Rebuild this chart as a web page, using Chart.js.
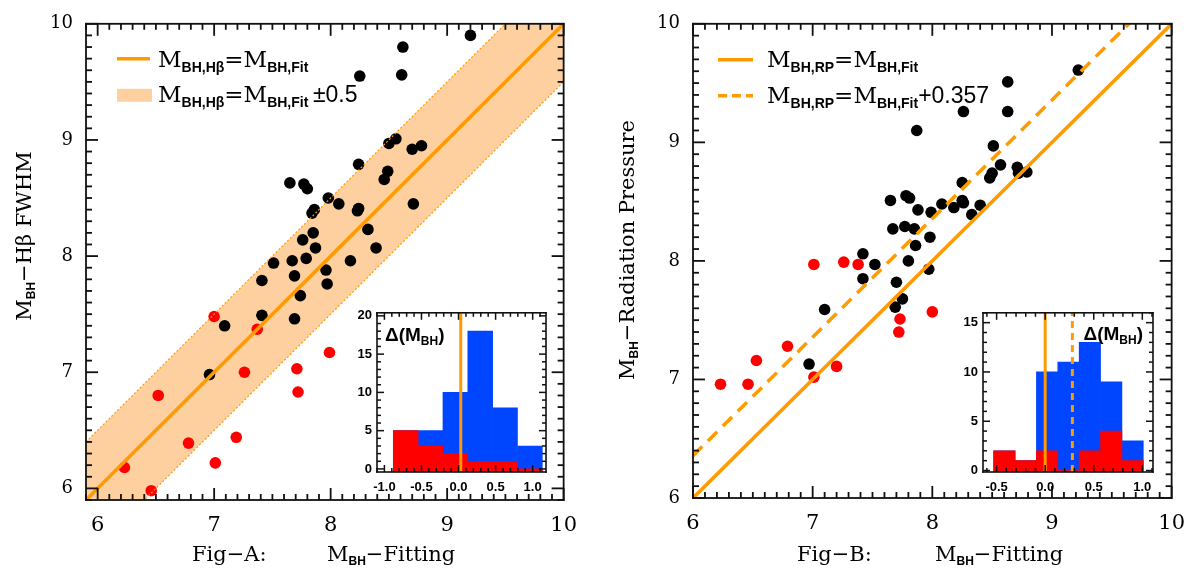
<!DOCTYPE html>
<html>
<head>
<meta charset="utf-8">
<title>M_BH comparison</title>
<script src="https://cdn.jsdelivr.net/npm/chart.js@4.4.1/dist/chart.umd.min.js"></script>
<style>
    body { margin: 0; background: #fff; }
    #wrap { position: relative; width: 1198px; height: 569px; overflow: hidden; }
    #wrap canvas { position: absolute; }
</style>
</head>
<body>
<div id="wrap">
    <canvas id="figA" width="590" height="569" style="left:0;top:0;width:590px;height:569px"></canvas>
    <canvas id="figB" width="608" height="569" style="left:590px;top:0;width:608px;height:569px"></canvas>
    <canvas id="histA" width="220" height="200" style="left:335px;top:300px;width:220px;height:200px"></canvas>
    <canvas id="histB" width="225" height="200" style="left:940px;top:300px;width:225px;height:200px"></canvas>
</div>
<script>
// ---- data ----
const axisTicks = [6, 7, 8, 9, 10];

// Fig-A : M_BH from H-beta FWHM against the fitted M_BH
const fitA_black = [9.20, 8.62, 8.25, 8.61, 8.56, 8.50, 8.70, 8.78, 8.24, 8.49, 8.46, 7.65, 7.77, 7.80, 7.98, 8.07, 8.24, 8.23, 8.71, 7.86,
                    7.84, 8.32, 7.85, 7.76, 7.87, 8.39, 7.51, 7.67, 7.79, 8.17, 7.41, 7.69, 7.96, 7.97, 7.74, 7.41, 7.69, 7.09, 6.96];
const hbA_black  = [9.90, 9.80, 9.55, 9.56, 9.01, 8.97, 8.92, 8.95, 8.79, 8.73, 8.66, 8.63, 8.62, 8.58, 8.50, 8.45, 8.41, 8.39, 8.45, 8.40,
                    8.37, 8.23, 8.20, 8.14, 8.07, 8.07, 7.94, 7.96, 7.98, 7.96, 7.79, 7.83, 7.88, 7.76, 7.66, 7.49, 7.46, 7.40, 6.98];
const fitA_red = [7.00, 7.37, 7.99, 7.71, 7.26, 7.72, 6.52, 6.78, 7.19, 7.01, 6.23, 6.46];
const hbA_red  = [7.48, 7.37, 7.17, 7.03, 7.00, 6.83, 6.80, 6.39, 6.44, 6.22, 6.18, 5.98];
const bandA = 0.5;

// Fig-B : M_BH with radiation pressure against the fitted M_BH
const fitB_black = [9.22, 8.63, 8.63, 8.26, 7.87, 8.51, 8.57, 8.71, 8.79, 8.72, 8.50, 8.48, 8.25, 7.65, 7.78, 7.81, 7.88, 7.99, 8.08, 8.18,
                    8.25, 8.26, 8.40, 8.33, 7.67, 7.77, 7.85, 7.98, 7.86, 7.42, 7.52, 7.80, 7.97, 7.42, 7.70, 7.75, 7.69, 7.10, 6.97];
const rpB_black  = [9.61, 9.51, 9.26, 9.26, 9.10, 8.97, 8.81, 8.79, 8.75, 8.74, 8.74, 8.70, 8.66, 8.51, 8.55, 8.53, 8.43, 8.41, 8.48, 8.45,
                    8.51, 8.49, 8.47, 8.39, 8.27, 8.29, 8.27, 8.20, 8.13, 8.06, 7.97, 8.00, 7.93, 7.85, 7.82, 7.68, 7.61, 7.59, 7.13];
const fitB_red = [7.01, 7.26, 7.38, 8.00, 7.73, 7.72, 6.79, 6.53, 7.20, 7.01, 6.23, 6.46];
const rpB_red  = [7.97, 7.99, 7.97, 7.57, 7.51, 7.40, 7.28, 7.16, 7.11, 7.02, 6.96, 6.96];
const offsetB = 0.357;

// inset histograms of delta(M_BH)
const histA_edges = [-0.88, -0.545, -0.21, 0.125, 0.46, 0.795, 1.13];
const histA_all = [5, 5, 10, 18, 8, 3];
const histA_red = [5, 3, 2, 1, 1, 0];
const histA_xTicks = [-1.0, -0.5, 0.0, 0.5, 1.0];
const histA_yTicks = [0, 5, 10, 15, 20];
const histA_zero = 0.03;

const histB_edges = [-0.53, -0.31, -0.09, 0.13, 0.35, 0.57, 0.79, 1.01];
const histB_all = [2, 1, 10, 11, 13, 9, 3];
const histB_red = [2, 1, 2, 0, 2, 4, 1];
const histB_xTicks = [-0.5, 0.0, 0.5, 1.0];
const histB_yTicks = [0, 5, 10, 15];
const histB_zero = 0.0;
const histB_shift = 0.28;

// ---- styles ----
const SERIF = '"DejaVu Serif", serif';
const SANS = '"Liberation Sans", Arial, sans-serif';
const ORANGE = '#ff9a00';
const BAND = '#fed09f';
const BLUE = '#0045ff';
const RED = '#ff0000';

// IDL style box: frame plus short ticks pointing inwards on all four sides
function boxTicks(o) {
    return {
        id: 'boxTicks',
        afterDraw(chart) {
            const ctx = chart.ctx;
            const a = chart.chartArea;
            const L = a.left, R = a.right, T = a.top, B = a.bottom;
            const xs = chart.scales.x, ys = chart.scales.y;
            const xPix = v => {
                const p = xs.getPixelForValue(v);
                return Number.isFinite(p) ? p : L + (v - o.x[0]) / (o.x[1] - o.x[0]) * (R - L);
            };
            const yPix = v => {
                const p = ys.getPixelForValue(v);
                return Number.isFinite(p) ? p : B - (v - o.y[0]) / (o.y[1] - o.y[0]) * (B - T);
            };
            ctx.save();
            ctx.fillStyle = '#111';
            // frame
            ctx.fillRect(L - o.lw / 2, T - o.lw / 2, R - L + o.lw, o.lw);
            ctx.fillRect(L - o.lw / 2, B - o.lw / 2, R - L + o.lw, o.lw);
            ctx.fillRect(L - o.lw / 2, T - o.lw / 2, o.lw, B - T + o.lw);
            ctx.fillRect(R - o.lw / 2, T - o.lw / 2, o.lw, B - T + o.lw);
            // ticks
            const xn = Math.round((o.x[1] - o.x[0]) / o.xStep) + 2;
            const xk = Math.ceil(o.x[0] / o.xStep - 0.01);
            for (let i = 0; i < xn; i++) {
                const k = xk + i;
                const v = k * o.xStep;
                if (v > o.x[1] + 1e-6) break;
                const p = xPix(v);
                const len = (Math.abs(k) % o.xEvery === 0) ? o.major : o.minor;
                ctx.fillRect(p - o.tw / 2, B - len, o.tw, len);
                ctx.fillRect(p - o.tw / 2, T, o.tw, len);
            }
            const yn = Math.round((o.y[1] - o.y[0]) / o.yStep) + 2;
            const yk = Math.ceil(o.y[0] / o.yStep - 0.01);
            for (let i = 0; i < yn; i++) {
                const k = yk + i;
                const v = k * o.yStep;
                if (v > o.y[1] + 1e-6) break;
                const p = yPix(v);
                const len = (Math.abs(k) % o.yEvery === 0) ? o.major : o.minor;
                ctx.fillRect(L, p - o.tw / 2, len, o.tw);
                ctx.fillRect(R - len, p - o.tw / 2, len, o.tw);
            }
            ctx.restore();
        }
    };
}

// draws a run of text pieces [text, font, dy] one after another
function drawRich(ctx, x, y, parts, align) {
    let w = 0;
    parts.forEach(p => { ctx.font = p[1]; w += ctx.measureText(p[0]).width; });
    let cx = align === 'center' ? x - w / 2 : (align === 'right' ? x - w : x);
    parts.forEach(p => {
        ctx.font = p[1];
        ctx.fillText(p[0], cx, y + (p[2] || 0));
        cx += ctx.measureText(p[0]).width;
    });
}

const big = '21px ' + SERIF;
const sub = 'bold 12px ' + SANS;
const mBH = (s) => [['M', '23px ' + SERIF], [s, 'bold 14px ' + SANS, 5]];

function mainScales(min, max, yWidth, xHeight) {
    const fixTicks = s => { s.ticks = axisTicks.map(v => ({ value: v })); };
    return {
        x: {
            type: 'linear', min: min, max: max,
            afterBuildTicks: fixTicks,
            afterFit: s => { s.height = xHeight; },
            grid: { display: false, drawTicks: false },
            border: { display: false },
            ticks: { color: '#000', font: { family: SERIF, size: 21 }, padding: 13, maxRotation: 0, autoSkip: false }
        },
        y: {
            type: 'linear', min: min, max: max,
            afterBuildTicks: fixTicks,
            afterFit: s => { s.width = yWidth; },
            grid: { display: false, drawTicks: false },
            border: { display: false },
            ticks: { color: '#000', font: { family: SERIF, size: 18 }, padding: 13, autoSkip: false }
        }
    };
}

function points(xs, ys) {
    return xs.map((x, i) => ({ x: x, y: ys[i] }));
}

function createFigA() {
    const xMin = 5.9, xMax = 10;
    const ends = [xMin, xMax];
    const labels = {
        id: 'labelsA',
        afterDraw(chart) {
            const ctx = chart.ctx, a = chart.chartArea;
            ctx.save();
            ctx.fillStyle = '#000';
            ctx.textBaseline = 'alphabetic';
            // legend
            ctx.strokeStyle = ORANGE; ctx.lineWidth = 3.5;
            ctx.beginPath(); ctx.moveTo(a.left + 31, a.top + 35); ctx.lineTo(a.left + 64, a.top + 35); ctx.stroke();
            ctx.fillStyle = BAND;
            ctx.fillRect(a.left + 31, a.top + 65, 35, 13);
            ctx.fillStyle = '#000';
            drawRich(ctx, a.left + 72, a.top + 43, [...mBH('BH,Hβ'), ['=', '23px ' + SERIF], ...mBH('BH,Fit')]);
            drawRich(ctx, a.left + 72, a.top + 78, [...mBH('BH,Hβ'), ['=', '23px ' + SERIF], ...mBH('BH,Fit'), ['\u2009±0.5', '23px ' + SANS]]);
            // axis titles
            drawRich(ctx, a.left + 106, 561, [['Fig−A:', big]]);
            drawRich(ctx, a.left + 241, 561, [['M', big], ['BH', sub, 4], ['−Fitting', big]]);
            ctx.translate(31, 236);
            ctx.rotate(-Math.PI / 2);
            drawRich(ctx, 0, 0, [['M', big], ['BH', sub, 4], ['−Hβ FWHM', big]], 'center');
            ctx.restore();
        }
    };
    new Chart(document.getElementById('figA'), {
        type: 'scatter',
        data: {
            datasets: [
                {
                    type: 'line', data: ends.map(x => ({ x: x, y: x + bandA })),
                    borderColor: ORANGE, borderWidth: 1.2, borderDash: [2, 2], pointRadius: 0,
                    backgroundColor: BAND, fill: '+1', order: 0
                },
                {
                    type: 'line', data: ends.map(x => ({ x: x, y: x - bandA })),
                    borderColor: ORANGE, borderWidth: 1.2, borderDash: [2, 2], pointRadius: 0, fill: false, order: 0
                },
                {
                    type: 'line', data: ends.map(x => ({ x: x, y: x })),
                    borderColor: ORANGE, borderWidth: 3.5, pointRadius: 0, fill: false, order: 0
                },
                { data: points(fitA_black, hbA_black), backgroundColor: '#000', pointRadius: 5.8, borderWidth: 0, order: 1 },
                { data: points(fitA_red, hbA_red), backgroundColor: RED, pointRadius: 5.8, borderWidth: 0, order: 1 }
            ]
        },
        options: {
            responsive: false,
            animation: false,
            layout: { padding: { left: 0, right: 17, top: 9, bottom: 0 } },
            scales: mainScales(xMin, xMax, 86, 69),
            plugins: { legend: { display: false }, tooltip: { enabled: false }, filler: { drawTime: 'beforeDatasetsDraw' } }
        },
        plugins: [labels, boxTicks({ lw: 1.8, tw: 1.8, major: 12, minor: 6, x: ends, y: ends, xStep: 0.1, xEvery: 10, yStep: 0.1, yEvery: 10 })]
    });
}

function createFigB() {
    const xMin = 6, xMax = 10;
    const ends = [xMin, xMax];
    const labels = {
        id: 'labelsB',
        afterDraw(chart) {
            const ctx = chart.ctx, a = chart.chartArea;
            ctx.save();
            ctx.fillStyle = '#000';
            ctx.strokeStyle = ORANGE; ctx.lineWidth = 3.5;
            ctx.beginPath(); ctx.moveTo(a.left + 25, a.top + 36); ctx.lineTo(a.left + 60, a.top + 36); ctx.stroke();
            ctx.setLineDash([9, 5]);
            ctx.beginPath(); ctx.moveTo(a.left + 25, a.top + 72); ctx.lineTo(a.left + 60, a.top + 72); ctx.stroke();
            ctx.setLineDash([]);
            drawRich(ctx, a.left + 74, a.top + 43, [...mBH('BH,RP'), ['=', '23px ' + SERIF], ...mBH('BH,Fit')]);
            drawRich(ctx, a.left + 74, a.top + 79, [...mBH('BH,RP'), ['=', '23px ' + SERIF], ...mBH('BH,Fit'), ['+0.357', '23px ' + SANS]]);
            drawRich(ctx, a.left + 104, 561, [['Fig−B:', big]]);
            drawRich(ctx, a.left + 242, 561, [['M', big], ['BH', sub, 4], ['−Fitting', big]]);
            ctx.translate(44, 250);
            ctx.rotate(-Math.PI / 2);
            drawRich(ctx, 0, 0, [['M', big], ['BH', sub, 4], ['−Radiation Pressure', big]], 'center');
            ctx.restore();
        }
    };
    new Chart(document.getElementById('figB'), {
        type: 'scatter',
        data: {
            datasets: [
                {
                    type: 'line', data: ends.map(x => ({ x: x, y: x })),
                    borderColor: ORANGE, borderWidth: 3.5, pointRadius: 0, fill: false, order: 0
                },
                {
                    type: 'line', data: ends.map(x => ({ x: x, y: x + offsetB })),
                    borderColor: ORANGE, borderWidth: 3.5, borderDash: [13, 8], pointRadius: 0, fill: false, order: 0
                },
                { data: points(fitB_black, rpB_black), backgroundColor: '#000', pointRadius: 5.8, borderWidth: 0, order: 1 },
                { data: points(fitB_red, rpB_red), backgroundColor: RED, pointRadius: 5.8, borderWidth: 0, order: 1 }
            ]
        },
        options: {
            responsive: false,
            animation: false,
            layout: { padding: { left: 0, right: 20, top: 9, bottom: 0 } },
            scales: mainScales(xMin, xMax, 103, 71),
            plugins: { legend: { display: false }, tooltip: { enabled: false } }
        },
        plugins: [labels, boxTicks({ lw: 1.8, tw: 1.8, major: 12, minor: 6, x: ends, y: ends, xStep: 0.1, xEvery: 10, yStep: 0.1, yEvery: 10 })]
    });
}

function bins(edges, counts) {
    return counts.map((c, i) => ({ x: (edges[i] + edges[i + 1]) / 2, y: c }));
}

function createInset(id, o) {
    const tickFont = { family: SANS, size: 13, weight: 'bold' };
    const vline = (x, dash) => ({
        type: 'line', data: [{ x: x, y: o.yMin }, { x: x, y: o.yMax }],
        borderColor: ORANGE, borderWidth: 3, borderDash: dash, pointRadius: 0, fill: false, order: 0
    });
    const lines = [vline(o.zero, [])];
    if (o.shift !== undefined) lines.push(vline(o.shift, [7, 5]));
    const title = {
        id: 'deltaTitle',
        beforeDraw(chart) {
            const a = chart.chartArea;
            chart.ctx.fillStyle = '#fff';
            chart.ctx.fillRect(a.left, a.top, a.right - a.left, a.bottom - a.top);
        },
        afterDraw(chart) {
            const ctx = chart.ctx, a = chart.chartArea;
            ctx.save();
            ctx.fillStyle = '#000';
            const parts = [['Δ(M', 'bold 19px ' + SANS], ['BH', 'bold 12px ' + SANS, 4], [')', 'bold 19px ' + SANS]];
            if (o.titleRight) drawRich(ctx, a.right - 10, a.top + 27, parts, 'right');
            else drawRich(ctx, a.left + 8, a.top + 28, parts);
            ctx.restore();
        }
    };
    new Chart(document.getElementById(id), {
        type: 'bar',
        data: {
            datasets: [
                ...lines,
                { data: bins(o.edges, o.red), backgroundColor: RED, base: o.yMin, order: 1 },
                { data: bins(o.edges, o.all), backgroundColor: BLUE, base: o.yMin, order: 2 }
            ]
        },
        options: {
            responsive: false,
            animation: false,
            datasets: { bar: { barPercentage: 1, categoryPercentage: 1, grouped: false, borderWidth: 0 } },
            layout: { padding: o.padding },
            scales: {
                x: {
                    type: 'linear', min: o.xMin, max: o.xMax, offset: false,
                    afterBuildTicks: s => { s.ticks = o.xTicks.map(v => ({ value: v })); },
                    afterFit: s => { s.height = o.xHeight; },
                    grid: { display: false, drawTicks: false, offset: false },
                    border: { display: false },
                    ticks: { color: '#000', font: tickFont, padding: 8, maxRotation: 0, autoSkip: false, callback: v => v.toFixed(1) }
                },
                y: {
                    type: 'linear', min: o.yMin, max: o.yMax,
                    afterBuildTicks: s => { s.ticks = o.yTicks.map(v => ({ value: v })); },
                    afterFit: s => { s.width = o.yWidth; },
                    grid: { display: false, drawTicks: false },
                    border: { display: false },
                    ticks: { color: '#000', font: tickFont, padding: 5, autoSkip: false }
                }
            },
            plugins: { legend: { display: false }, tooltip: { enabled: false } }
        },
        plugins: [title, boxTicks({
            lw: 1.6, tw: 1.5, major: 7, minor: 4, x: [o.xMin, o.xMax], y: [o.yMin, o.yMax],
            xStep: 0.1, xEvery: 5, yStep: 1, yEvery: 5
        })]
    });
}

createFigA();
createFigB();
createInset('histA', {
    edges: histA_edges, all: histA_all, red: histA_red, xTicks: histA_xTicks, yTicks: histA_yTicks,
    xMin: -1.1, xMax: 1.18, yMin: -0.4, yMax: 20.4, zero: histA_zero,
    yWidth: 42, xHeight: 28, padding: { left: 0, right: 9, top: 10, bottom: 0 }
});
createInset('histB', {
    edges: histB_edges, all: histB_all, red: histB_red, xTicks: histB_xTicks, yTicks: histB_yTicks,
    xMin: -0.64, xMax: 1.11, yMin: -0.15, yMax: 16, zero: histB_zero, shift: histB_shift, titleRight: true,
    yWidth: 43, xHeight: 28, padding: { left: 0, right: 12, top: 11, bottom: 0 }
});
</script>
</body>
</html>
